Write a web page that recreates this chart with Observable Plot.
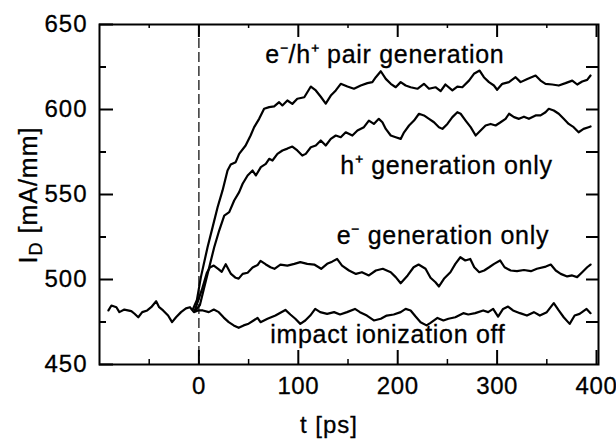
<!DOCTYPE html>
<html>
<head>
<meta charset="utf-8">
<script src="https://cdn.jsdelivr.net/npm/d3@7"></script>
<script src="https://cdn.jsdelivr.net/npm/@observablehq/plot@0.6"></script>
<style>
  html, body { margin: 0; padding: 0; background: #fff; }
  #chart { position: absolute; left: 0; top: 0; width: 616px; height: 440px; }
  #chart svg text { stroke: #000; stroke-width: 0.3px; }
</style>
</head>
<body>
<div id="chart"></div>
<script>
// ---- Data (t in ps, I_D in mA/mm) ----
const impactOff = [
  [-91,481.8],[-88,484.7],[-83,483.7],[-80,480.8],[-75,482.3],[-68,481.4],[-65,480],[-61,477.8],
  [-57,480.8],[-52,481.8],[-48,483.7],[-43,487.2],[-40,483.7],[-36,481.8],[-31,478.8],[-27,474.9],
  [-23,477.8],[-18,480.8],[-13,483],[-9,483.7],[-5,480.8],[-1,481.8],[4,481.8],[10,480.8],
  [15,482.3],[20,480.8],[25,477.6],[30,474.9],[35,473],[40,471.6],[45,473],[50,474],
  [55,475.9],[59,477.4],[62,474.9],[69,476.9],[77,478.8],[87,482.1],[92,479.4],[97,476.9],
  [102,473.9],[107,475.9],[112,478.8],[117,482.7],[122,480.8],[129,479.8],[136,480.8],[142,479.4],
  [149,480.8],[157,482.7],[162,480.8],[169,478.8],[176,475.9],[183,476.9],[189,478.8],[196,479.4],
  [203,480.8],[208,482.7],[213,481.8],[218,478.2],[223,474.9],[229,473],[233,474.5],[240,477.4],
  [246,475.9],[251,476.9],[258,477.8],[266,480.2],[271,479.4],[278,480.2],[286,481.8],[291,480.8],
  [296,482.7],[301,478.2],[306,482.7],[311,484.1],[316,481.8],[323,480.2],[330,478.8],[337,480.8],
  [343,478.8],[350,480.8],[357,486.1],[362,481.8],[367,477.8],[373,473.9],[378,478.8],[383,479.8],
  [390,482.7],[394,480.2]
];
const eGenOnly = [
  [-4,482],[3,494],[8,504],[11,507],[15,508.2],[20,506],[23,504.5],[27,509],[32,503.5],[37,501],
  [40,500.5],[44,503.3],[49,504],[54,507],[59,508.5],[62,511],[67,509],[72,507.2],[76,506.3],
  [82,508.8],[89,508.2],[96,509.2],[102,510.2],[109,509.2],[116,508.8],[123,506.3],[129,509.2],
  [134,510.5],[139,512.1],[144,508.2],[151,505.3],[158,503.3],[164,504.3],[171,502.4],[178,505.3],
  [185,506.3],[193,504.3],[198,501.4],[203,497.8],[210,502.4],[216,507.2],[221,508.8],[228,506.3],
  [233,501],[238,498.4],[241.5,495.9],[246.5,500.4],[253,504.3],[258,509.2],[263,513.1],[268,511.2],
  [273,512.1],[277,507.2],[282,504.3],[287,505.3],[292,507.2],[297,509.2],[303,511.2],[307.5,507.2],
  [313.6,505.3],[320,504.9],[327,505.6],[334,504.9],[340,506.3],[349,507.6],[354,508.8],[359,505.3],
  [364,503.3],[370.5,501.8],[375.5,502.4],[380.5,501.4],[385.6,504.3],[390.6,507.2],[394,508.8]
];
const pairGen = [
  [-6,482.5],[-2,488],[2,501.4],[8.7,519],[13.8,530.8],[18.8,542.5],[23.8,552.4],[28.8,564.1],
  [32,567.6],[37,569],[40.5,573.9],[47,578.8],[52,584.7],[55.6,589.6],[60.6,594.5],[65.6,600.4],
  [70.7,601.4],[75.7,601.8],[80.7,604.3],[84,602.4],[89,605.3],[94,603.3],[99,606.3],[106,607.2],
  [112.6,613.5],[117.6,611.2],[122.6,607.5],[127.6,603.5],[132.7,608.2],[137.7,611.2],[142.7,615.1],
  [149.4,613.5],[156,612.2],[162.8,614.1],[169.5,615.5],[174.5,616.1],[178,619],[183,622.5],
  [188,618],[193,615.1],[198,613.1],[203,616.1],[208,614.1],[213,613.1],[219.8,612.2],[226.4,615.1],
  [231.5,612.2],[238,613.1],[243.2,610.8],[248,614.7],[255,611.2],[260,613.5],[265,613.1],
  [271.7,617],[276.7,621],[282.4,622.9],[286.7,619],[291.8,616.1],[296.8,614.1],[300,611.6],
  [305.2,615.1],[311.9,616.1],[318.6,619],[323.6,616.1],[330.4,618],[338.7,620],[343.7,617],
  [348.7,615.1],[355.4,614.7],[362,614.1],[368.8,615.5],[375.6,617],[380.6,614.7],[385.6,616.5],
  [390.6,617.4],[394,620]
];
const hGenOnly = [
  [-3,482],[1,485],[5.4,495.5],[10.4,507.2],[15.4,519],[20.4,528.8],[25.5,537.6],[30.5,539.6],
  [35.5,546.5],[40.5,551.4],[44,556.3],[49,561.2],[54,564.1],[57.3,561.2],[62.3,566.1],[67.3,568],
  [70.7,571],[74,570],[79,573.9],[84,575.9],[89,577],[94,578.2],[99,575.9],[104,572.9],[107.5,573.9],
  [112.6,577.8],[117.6,578.8],[122.6,581.8],[127.6,578.8],[132.7,582.7],[137.7,584.7],[142.7,583.7],
  [147.7,586.6],[154.4,584.7],[159.5,587.6],[166,589.6],[171,593.5],[176,591.5],[181,594.5],
  [184.6,592.5],[188,588.6],[193,584.7],[198,583.7],[203,582.7],[206.4,586.6],[211.4,590.6],
  [216.4,593.5],[221.4,597.5],[226.4,596.5],[231.5,594.5],[236.5,592.5],[241.5,589.6],[245,588.6],
  [250,591.5],[255,595.5],[260,598.4],[263.3,597.5],[268.3,593.5],[273.4,589.6],[278.4,584.7],
  [283.4,587.6],[288.4,590.6],[293.5,591.5],[298.5,590.6],[303.5,592.5],[308.5,594.5],[312,597.5],
  [317,595.5],[322,594.5],[327,595.8],[332,594.5],[338.7,596.5],[343.7,596.5],[348.7,598.4],
  [352,600.4],[357,599.4],[362,597.5],[367,594.5],[372,591.5],[377,589.6],[382,586.6],[387,588.6],
  [392,589.6],[394,590]
];

const seriesNames = ["e\u207B/h\u207A pair generation", "h\u207A generation only", "e\u207B generation only", "impact ionization off"];
const seriesPoints = [pairGen, hGenOnly, eGenOnly, impactOff];

// tick values
const xMajor = [0, 100, 200, 300, 400];
const xMinor = [-50, 50, 150, 250, 350];
const yMajor = [450, 500, 550, 600, 650];
const yMinor = [475, 525, 575, 625];
const yRight = [475, 500, 525, 550, 575, 600, 625];

// annotation anchors (data units)
const labelT = [187, 249, 245.5, 190];
const labelI = [632, 567, 525.5, 467.5];

const rows = seriesNames.flatMap((name, i) => seriesPoints[i].map(([t, I]) => ({series: name, t, I})));
const labels = seriesNames.map((name, i) => ({text: name, t: labelT[i], I: labelI[i]}));

const font = "'Liberation Sans', Arial, Helvetica, sans-serif";

// layout
const W = 616, H = 440, mL = 99, mR = 18, mT = 24, mB = 76;
const xDomain = [-100, 402], yDomain = [450, 650];
const fw = W - mL - mR, fh = H - mT - mB;
// pixel lengths of the inward ticks expressed in data units
const xPerPx = (xDomain[1] - xDomain[0]) / fw;
const yPerPx = (yDomain[1] - yDomain[0]) / fh;
const [x0, x1] = xDomain, [y0, y1] = yDomain;

const plot = Plot.plot({
  width: W,
  height: H,
  marginLeft: mL,
  marginRight: mR,
  marginTop: mT,
  marginBottom: mB,
  x: {domain: xDomain},
  y: {domain: yDomain},
  style: {fontFamily: font, fontSize: "24px", background: "#fff", color: "#000", overflow: "visible"},
  marks: [
    Plot.ruleX([0], {stroke: "#000", strokeWidth: 1.2, strokeDasharray: "10,4"}),
    Plot.line(rows, {x: "t", y: "I", z: "series", stroke: "#000", strokeWidth: 2.2}),
    Plot.text(labels, {x: "t", y: "I", text: "text", fontSize: 25, fill: "#000", textAnchor: "middle"}),
    // inward ticks (bottom, top, left, right)
    Plot.ruleX(xMajor, {x: d => d, y1: y0, y2: y0 + 14 * yPerPx, stroke: "#000", strokeWidth: 2}),
    Plot.ruleX(xMinor, {x: d => d, y1: y0, y2: y0 + 5 * yPerPx, stroke: "#000", strokeWidth: 1.5}),
    Plot.ruleX(xMajor, {x: d => d, y1: y1, y2: y1 - 13 * yPerPx, stroke: "#000", strokeWidth: 2}),
    Plot.ruleX(xMinor, {x: d => d, y1: y1, y2: y1 - 4 * yPerPx, stroke: "#000", strokeWidth: 1.5}),
    Plot.ruleY(yMajor, {y: d => d, x1: x0, x2: x0 + 14 * xPerPx, stroke: "#000", strokeWidth: 2}),
    Plot.ruleY(yMinor, {y: d => d, x1: x0, x2: x0 + 7 * xPerPx, stroke: "#000", strokeWidth: 2}),
    Plot.ruleY(yRight, {y: d => d, x1: x1, x2: x1 - 12 * xPerPx, stroke: "#000", strokeWidth: 2}),
    Plot.frame({stroke: "#000", strokeWidth: 2}),
    Plot.axisX({ticks: xMajor, anchor: "bottom", tickSize: 0, tickPadding: 12, label: null, fontSize: 24}),
    Plot.axisY({ticks: yMajor, anchor: "left", tickSize: 0, tickPadding: 12, label: null, fontSize: 24})
  ]
});

document.getElementById("chart").appendChild(plot);

const svg = d3.select(plot);
// letter spacing to match the wide lettering of the original
svg.selectAll('g[aria-label="y-axis tick label"] text').style("letter-spacing", "1px");
svg.selectAll('g[aria-label="x-axis tick label"] text').style("letter-spacing", "0.6px");
svg.selectAll('g[aria-label="text"] text').style("letter-spacing", "0.7px");

// x axis title
svg.append("text")
  .attr("x", 329).attr("y", 433)
  .attr("text-anchor", "middle")
  .attr("font-family", font).attr("font-size", 24)
  .style("letter-spacing", "1px")
  .attr("fill", "#000")
  .text("t [ps]");

// y axis title with subscript
const yt = svg.append("text")
  .attr("transform", "translate(37,195) rotate(-90)")
  .attr("text-anchor", "middle")
  .attr("font-family", font).attr("font-size", 25)
  .style("letter-spacing", "1px")
  .attr("fill", "#000");
yt.append("tspan").text("I");
yt.append("tspan").attr("font-size", 18).attr("dy", 5).text("D");
yt.append("tspan").attr("dy", -5).text(" [mA/mm]");
</script>
</body>
</html>
